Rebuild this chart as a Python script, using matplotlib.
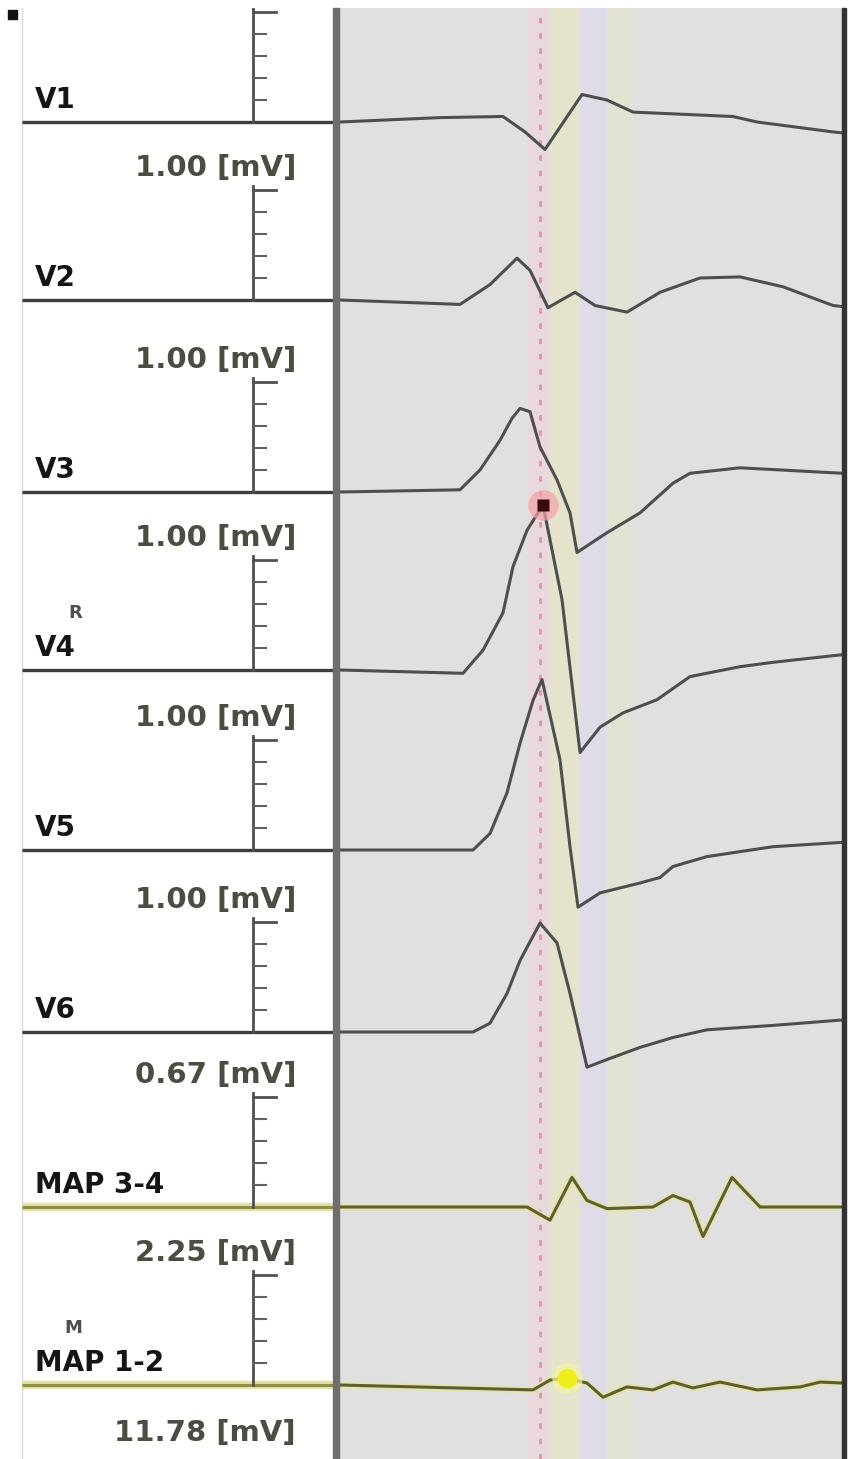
import matplotlib.pyplot as plt
from matplotlib.patches import Rectangle

plt.rcParams['font.family'] = ['DejaVu Sans']

# channels, top to bottom
channels = ["V1", "V2", "V3", "V4", "V5", "V6", "MAP 3-4", "MAP 1-2"]
# display scale of each lane (height of its scale bar), mV
scales = [1.00, 1.00, 1.00, 1.00, 1.00, 1.00, 0.67, 2.25]
extra_scale = 11.78  # lane below MAP 1-2, cut off in the screenshot
sub_labels = {"V4": "R", "MAP 1-2": "M"}

# time (ms) and amplitude (mV) of each trace
t_v1 = [0, 100, 163, 185, 205, 242, 267, 293, 393, 417, 493, 503]
v1 = [0.00, 0.04, 0.05, -0.09, -0.25, 0.25, 0.20, 0.09, 0.05, 0.00, -0.09, -0.10]

t_v2 = [0, 60, 120, 150, 177, 190, 208, 235, 255, 287, 320, 360, 400, 443, 493, 503]
v2 = [0.00, -0.02, -0.04, 0.14, 0.38, 0.27, -0.07, 0.07, -0.05, -0.11, 0.07, 0.20, 0.21, 0.12, -0.05, -0.06]

t_v3 = [0, 120, 140, 160, 172, 180, 190, 200, 217, 230, 237, 267, 300, 333, 350, 400, 503]
v3 = [0.00, 0.02, 0.20, 0.47, 0.67, 0.76, 0.73, 0.41, 0.11, -0.19, -0.55, -0.37, -0.19, 0.08, 0.17, 0.22, 0.17]

t_v4 = [0, 123, 143, 163, 173, 187, 203, 222, 240, 260, 283, 317, 350, 400, 433, 503]
v4 = [0.00, -0.03, 0.18, 0.52, 0.94, 1.27, 1.50, 0.64, -0.75, -0.52, -0.39, -0.27, -0.06, 0.03, 0.07, 0.14]

t_v5 = [0, 133, 150, 167, 180, 193, 202, 220, 230, 238, 260, 300, 320, 333, 367, 433, 503]
v5 = [0.00, 0.00, 0.15, 0.52, 0.97, 1.36, 1.55, 0.82, 0.03, -0.52, -0.39, -0.30, -0.25, -0.15, -0.06, 0.03, 0.07]

t_v6 = [0, 133, 150, 167, 180, 200, 217, 230, 247, 267, 300, 333, 367, 433, 503]
v6 = [0.00, 0.00, 0.08, 0.35, 0.65, 0.99, 0.81, 0.35, -0.32, -0.25, -0.14, -0.05, 0.02, 0.06, 0.11]

t_map34 = [0, 187, 210, 232, 247, 267, 313, 333, 350, 363, 392, 420, 503]
map34 = [0.00, 0.00, -0.08, 0.18, 0.04, -0.01, 0.00, 0.07, 0.03, -0.18, 0.18, 0.00, 0.00]

t_map12 = [0, 193, 210, 227, 247, 263, 287, 313, 333, 353, 380, 417, 460, 480, 503]
map12 = [0.00, -0.10, 0.10, 0.14, 0.04, -0.25, -0.04, -0.10, 0.06, -0.06, 0.06, -0.10, -0.04, 0.06, 0.04]

times = [t_v1, t_v2, t_v3, t_v4, t_v5, t_v6, t_map34, t_map12]
traces = [v1, v2, v3, v4, v5, v6, map34, map12]

# annotation markers: (channel, sample index)
red_mark = (3, 6)
yellow_mark = (7, 3)

# layout (pixels)
W, H = 849, 1459
top = 8
lane_base = [122, 300, 492, 670, 850, 1032, 1207, 1385]
lane_step = 180
bar_px = 110

fig = plt.figure(figsize=(W / 100, H / 100), dpi=100)

# left label panel
axl = fig.add_axes([22 / W, 0, (336 - 22) / W, (H - top) / H])
axl.set_xlim(22, 336)
axl.set_ylim(H, top)
axl.set_facecolor('white')
axl.set_xticks([])
axl.set_yticks([])
for s in axl.spines.values():
    s.set_visible(False)
axl.axvline(22, color='#d8d8d8', lw=1)

# right trace panel
axr = fig.add_axes([340 / W, 0, (843 - 340) / W, (H - top) / H])
axr.set_xlim(0, 503)
axr.set_ylim(H, top)
axr.set_facecolor('#e0e0e0')
axr.set_xticks([])
axr.set_yticks([])
for s in axr.spines.values():
    s.set_visible(False)

# cursor bands
axr.axvspan(188, 208, color='#e9d9dd', lw=0)
axr.axvspan(210, 240, color='#e6e3cd', lw=0)
axr.axvspan(240, 267, color='#dddce8', lw=0)
axr.axvspan(267, 293, color='#e3e3d3', lw=0)
axr.axvline(200, color='#d79aa6', lw=2, ls=(0, (2, 3.5)))

label_kw = dict(fontsize=21, fontweight='bold', color='#4c4c42', ha='right', va='center')

for i, name in enumerate(channels):
    base = lane_base[i]
    gain = bar_px / scales[i]
    is_map = name.startswith("MAP")
    col = '#5e5e30' if is_map else '#4e4e4e'

    # baseline through the label panel
    if is_map:
        axl.plot([22, 336], [base, base], color='#e2e2a8', lw=6, solid_capstyle='butt')
        axl.plot([22, 336], [base, base], color='#8e8e48', lw=2.2, solid_capstyle='butt')
    else:
        axl.plot([22, 336], [base, base], color='#3e3e3e', lw=2.4, solid_capstyle='butt')

    # scale bar with ticks
    axl.plot([253, 253], [base - bar_px - 4, base], color='#505050', lw=2)
    for k in range(1, 5):
        axl.plot([253, 266], [base - k * bar_px / 5] * 2, color='#606060', lw=1.5)
    axl.plot([253, 276], [base - bar_px] * 2, color='#505050', lw=2)

    axl.text(35, base - 14, name, fontsize=20, fontweight='bold', color='#151515',
             ha='left', va='baseline')
    if name in sub_labels:
        axl.text(82, base - 52, sub_labels[name], fontsize=13, fontweight='bold',
                 color='#505050', ha='right', va='baseline')
    if base - 132 > top + 15:
        axl.text(296, base - 132, f"{scales[i]:.2f} [mV]", **label_kw)

    y = [base - a * gain for a in traces[i]]
    if is_map:
        axr.plot(times[i], y, color='#e4e4a6', lw=5, alpha=0.8, solid_joinstyle='round')
    axr.plot(times[i], y, color=col, lw=2.2, solid_joinstyle='round')

# label of the cut-off lane below
axl.text(296, lane_base[-1] + lane_step - 132, f"{extra_scale:.2f} [mV]", **label_kw)

# markers
ci, si = red_mark
ym = lane_base[ci] - traces[ci][si] * bar_px / scales[ci]
axr.plot(times[ci][si], ym, 'o', ms=22, color='#f2a4a4', alpha=0.7, mec='none')
axr.plot(times[ci][si], ym, 's', ms=9, color='#3a0a0a', mec='none')
ci, si = yellow_mark
ym = lane_base[ci] - traces[ci][si] * bar_px / scales[ci]
axr.plot(times[ci][si], ym, 'o', ms=22, color='#f4f4a0', alpha=0.7, mec='none')
axr.plot(times[ci][si], ym, 'o', ms=14, color='#eeee1c', mec='none')

# panel frames
fig.patches.append(Rectangle((333 / W, 0), 6 / W, (H - top) / H, transform=fig.transFigure,
                             color='#6e6e6e', zorder=5))
fig.patches.append(Rectangle((842 / W, 0), 4 / W, (H - top) / H, transform=fig.transFigure,
                             color='#333333', zorder=5))
fig.patches.append(Rectangle((8 / W, 1 - 19 / H), 9 / W, 9 / H, transform=fig.transFigure,
                             color='#111111', zorder=5))

fig.savefig("out.png", dpi=100)
